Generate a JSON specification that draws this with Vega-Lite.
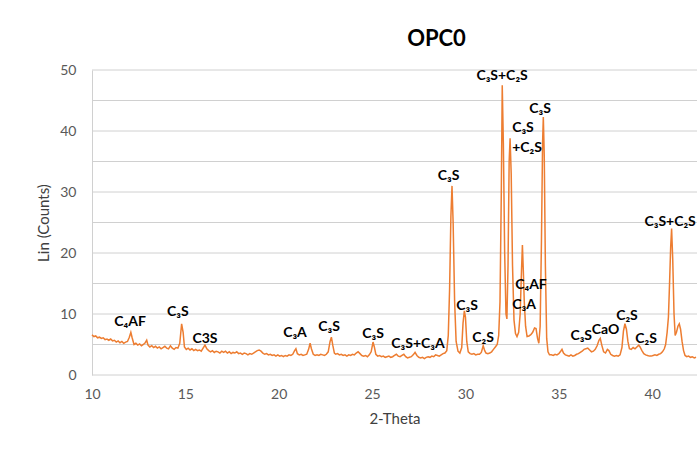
{
  "$schema": "https://vega.github.io/schema/vega-lite/v6.json",
  "width": 605,
  "height": 305,
  "autosize": {"type": "none"},
  "padding": {"left": 92, "top": 70, "right": 3, "bottom": 75},
  "background": "white",
  "title": {"text": "OPC0", "fontSize": 22, "fontWeight": "bold", "font": "Lato", "color": "#000000", "anchor": "middle", "dx": 42, "baseline": "bottom", "offset": -10},
  "config": {
    "view": {"stroke": null},
    "font": "Lato",
    "axis": {"domain": false, "ticks": false, "labelColor": "#595959", "titleColor": "#404040", "labelFont": "Lato", "titleFont": "Lato", "labelFontSize": 14, "titleFontSize": 15, "titleFontWeight": "normal", "labelFlush": false}
  },
  "datasets": {
    "xrd": [
      {"t":10.0,"c":6.6},{"t":10.1,"c":6.3},{"t":10.2,"c":6.4},{"t":10.3,"c":6.1},{"t":10.4,"c":6.2},{"t":10.5,"c":6.0},{"t":10.6,"c":6.1},{"t":10.7,"c":5.8},{"t":10.8,"c":5.9},{"t":10.9,"c":5.7},
      {"t":11.0,"c":5.9},{"t":11.1,"c":5.6},{"t":11.2,"c":5.7},{"t":11.3,"c":5.4},{"t":11.4,"c":5.6},{"t":11.5,"c":5.3},{"t":11.6,"c":5.5},{"t":11.7,"c":5.2},{"t":11.8,"c":5.4},{"t":11.9,"c":5.5},
      {"t":12.0,"c":6.2},{"t":12.08,"c":7.0},{"t":12.15,"c":6.1},{"t":12.25,"c":5.0},{"t":12.35,"c":5.2},{"t":12.45,"c":4.9},{"t":12.55,"c":5.1},{"t":12.65,"c":4.8},{"t":12.75,"c":5.0},{"t":12.85,"c":5.3},
      {"t":12.93,"c":5.7},{"t":13.0,"c":4.9},{"t":13.1,"c":4.6},{"t":13.2,"c":4.8},{"t":13.3,"c":4.5},{"t":13.4,"c":4.7},{"t":13.5,"c":4.4},{"t":13.6,"c":4.6},{"t":13.7,"c":4.3},{"t":13.8,"c":4.5},
      {"t":13.9,"c":4.7},{"t":14.0,"c":4.4},{"t":14.1,"c":4.3},{"t":14.2,"c":4.8},{"t":14.3,"c":4.4},{"t":14.4,"c":4.2},{"t":14.5,"c":4.5},{"t":14.6,"c":4.4},{"t":14.7,"c":5.2},{"t":14.8,"c":8.4},
      {"t":14.88,"c":7.0},{"t":14.95,"c":4.6},{"t":15.05,"c":4.2},{"t":15.15,"c":4.4},{"t":15.25,"c":4.1},{"t":15.35,"c":4.3},{"t":15.45,"c":4.0},{"t":15.55,"c":4.2},{"t":15.65,"c":4.0},{"t":15.75,"c":4.1},
      {"t":15.85,"c":3.9},{"t":15.95,"c":4.4},{"t":16.05,"c":4.9},{"t":16.15,"c":4.3},{"t":16.25,"c":4.0},{"t":16.35,"c":3.8},{"t":16.45,"c":4.0},{"t":16.55,"c":3.7},{"t":16.65,"c":3.9},{"t":16.75,"c":3.8},
      {"t":16.85,"c":3.6},{"t":16.95,"c":3.9},{"t":17.05,"c":3.7},{"t":17.15,"c":3.9},{"t":17.25,"c":3.6},{"t":17.35,"c":3.8},{"t":17.45,"c":3.5},{"t":17.55,"c":3.7},{"t":17.65,"c":3.6},{"t":17.75,"c":3.8},
      {"t":17.85,"c":3.5},{"t":17.95,"c":3.6},{"t":18.05,"c":3.4},{"t":18.15,"c":3.6},{"t":18.25,"c":3.5},{"t":18.35,"c":3.3},{"t":18.45,"c":3.5},{"t":18.55,"c":3.4},{"t":18.65,"c":3.6},{"t":18.75,"c":3.8},
      {"t":18.85,"c":4.0},{"t":18.95,"c":4.1},{"t":19.05,"c":3.9},{"t":19.15,"c":3.6},{"t":19.25,"c":3.4},{"t":19.35,"c":3.5},{"t":19.45,"c":3.3},{"t":19.55,"c":3.4},{"t":19.65,"c":3.2},{"t":19.75,"c":3.3},
      {"t":19.85,"c":3.1},{"t":19.95,"c":3.3},{"t":20.05,"c":3.1},{"t":20.15,"c":3.2},{"t":20.25,"c":3.0},{"t":20.35,"c":3.2},{"t":20.45,"c":3.1},{"t":20.55,"c":3.3},{"t":20.65,"c":3.2},{"t":20.75,"c":3.4},
      {"t":20.85,"c":4.0},{"t":20.92,"c":4.3},{"t":21.0,"c":3.5},{"t":21.1,"c":3.3},{"t":21.2,"c":3.4},{"t":21.3,"c":3.2},{"t":21.4,"c":3.3},{"t":21.5,"c":3.4},{"t":21.6,"c":4.2},{"t":21.68,"c":5.2},
      {"t":21.75,"c":4.3},{"t":21.85,"c":3.4},{"t":21.95,"c":3.2},{"t":22.05,"c":3.3},{"t":22.15,"c":3.2},{"t":22.25,"c":3.4},{"t":22.35,"c":3.3},{"t":22.45,"c":3.2},{"t":22.55,"c":3.4},{"t":22.65,"c":3.8},
      {"t":22.75,"c":5.5},{"t":22.82,"c":6.2},{"t":22.9,"c":4.8},{"t":22.98,"c":3.6},{"t":23.05,"c":3.4},{"t":23.15,"c":3.5},{"t":23.25,"c":3.3},{"t":23.35,"c":3.4},{"t":23.45,"c":3.2},{"t":23.55,"c":3.3},
      {"t":23.65,"c":3.1},{"t":23.75,"c":3.3},{"t":23.85,"c":3.2},{"t":23.95,"c":3.4},{"t":24.05,"c":3.3},{"t":24.15,"c":3.6},{"t":24.25,"c":3.8},{"t":24.35,"c":3.5},{"t":24.45,"c":3.2},{"t":24.55,"c":3.1},
      {"t":24.65,"c":3.2},{"t":24.75,"c":3.0},{"t":24.85,"c":3.3},{"t":24.95,"c":3.8},{"t":25.05,"c":5.4},{"t":25.12,"c":4.6},{"t":25.2,"c":3.4},{"t":25.3,"c":3.1},{"t":25.4,"c":3.2},{"t":25.5,"c":3.0},
      {"t":25.6,"c":3.1},{"t":25.7,"c":2.9},{"t":25.8,"c":3.0},{"t":25.9,"c":3.1},{"t":26.0,"c":2.9},{"t":26.1,"c":3.0},{"t":26.2,"c":3.2},{"t":26.3,"c":3.4},{"t":26.4,"c":3.1},{"t":26.5,"c":3.0},
      {"t":26.6,"c":3.2},{"t":26.7,"c":3.4},{"t":26.8,"c":3.0},{"t":26.9,"c":2.8},{"t":27.0,"c":2.9},{"t":27.1,"c":3.0},{"t":27.2,"c":3.3},{"t":27.3,"c":3.7},{"t":27.4,"c":3.2},{"t":27.5,"c":2.9},
      {"t":27.6,"c":2.8},{"t":27.7,"c":2.9},{"t":27.8,"c":2.7},{"t":27.9,"c":2.9},{"t":28.0,"c":3.0},{"t":28.1,"c":2.9},{"t":28.2,"c":3.1},{"t":28.3,"c":3.0},{"t":28.4,"c":3.3},{"t":28.5,"c":3.2},
      {"t":28.6,"c":3.1},{"t":28.7,"c":3.3},{"t":28.8,"c":3.5},{"t":28.9,"c":3.6},{"t":29.0,"c":4.0},{"t":29.08,"c":6.5},{"t":29.15,"c":14},{"t":29.22,"c":26},{"t":29.28,"c":31.0},{"t":29.34,"c":25},
      {"t":29.42,"c":12},{"t":29.5,"c":5.5},{"t":29.6,"c":3.9},{"t":29.7,"c":3.6},{"t":29.8,"c":4.5},{"t":29.87,"c":8.5},{"t":29.94,"c":10.5},{"t":30.0,"c":9.5},{"t":30.07,"c":5.5},{"t":30.15,"c":3.8},
      {"t":30.25,"c":3.5},{"t":30.35,"c":3.4},{"t":30.45,"c":3.5},{"t":30.55,"c":3.3},{"t":30.65,"c":3.4},{"t":30.75,"c":3.4},{"t":30.85,"c":3.7},{"t":30.95,"c":4.8},{"t":31.03,"c":4.0},{"t":31.1,"c":3.6},
      {"t":31.2,"c":3.5},{"t":31.3,"c":3.6},{"t":31.4,"c":3.8},{"t":31.5,"c":4.2},{"t":31.6,"c":4.6},{"t":31.7,"c":5.0},{"t":31.78,"c":6.5},{"t":31.85,"c":12},{"t":31.92,"c":30},{"t":31.97,"c":47.5},
      {"t":32.03,"c":38},{"t":32.1,"c":20},{"t":32.17,"c":10},{"t":32.22,"c":9.2},{"t":32.28,"c":18},{"t":32.34,"c":35},{"t":32.39,"c":38.8},{"t":32.45,"c":33},{"t":32.52,"c":18},{"t":32.6,"c":9},
      {"t":32.68,"c":6.8},{"t":32.76,"c":6.3},{"t":32.85,"c":7.0},{"t":32.93,"c":10},{"t":33.0,"c":17},{"t":33.05,"c":21.3},{"t":33.1,"c":17},{"t":33.15,"c":12},{"t":33.22,"c":8},{"t":33.3,"c":6.3},
      {"t":33.4,"c":6.4},{"t":33.5,"c":6.6},{"t":33.6,"c":7.0},{"t":33.7,"c":7.7},{"t":33.78,"c":7.6},{"t":33.86,"c":6.0},{"t":33.93,"c":5.2},{"t":34.0,"c":8},{"t":34.07,"c":22},{"t":34.13,"c":38},
      {"t":34.17,"c":42.3},{"t":34.22,"c":36},{"t":34.28,"c":18},{"t":34.35,"c":6},{"t":34.42,"c":3.8},{"t":34.5,"c":3.3},{"t":34.6,"c":3.3},{"t":34.7,"c":3.2},{"t":34.8,"c":3.4},{"t":34.9,"c":3.3},
      {"t":35.0,"c":3.5},{"t":35.1,"c":3.9},{"t":35.17,"c":4.2},{"t":35.25,"c":3.6},{"t":35.35,"c":3.3},{"t":35.45,"c":3.2},{"t":35.55,"c":3.1},{"t":35.65,"c":3.3},{"t":35.75,"c":3.1},{"t":35.85,"c":3.2},
      {"t":35.95,"c":3.4},{"t":36.05,"c":3.5},{"t":36.15,"c":3.7},{"t":36.25,"c":3.9},{"t":36.35,"c":4.2},{"t":36.45,"c":4.3},{"t":36.55,"c":4.4},{"t":36.65,"c":4.1},{"t":36.75,"c":3.8},{"t":36.85,"c":3.9},
      {"t":36.95,"c":4.2},{"t":37.05,"c":4.8},{"t":37.15,"c":5.7},{"t":37.22,"c":6.0},{"t":37.3,"c":4.9},{"t":37.4,"c":3.8},{"t":37.5,"c":3.6},{"t":37.6,"c":4.2},{"t":37.68,"c":4.0},{"t":37.78,"c":3.4},
      {"t":37.88,"c":3.2},{"t":37.98,"c":3.1},{"t":38.08,"c":3.2},{"t":38.18,"c":3.1},{"t":38.28,"c":3.3},{"t":38.38,"c":4.5},{"t":38.46,"c":7.2},{"t":38.54,"c":8.4},{"t":38.62,"c":7.5},{"t":38.7,"c":5.5},
      {"t":38.78,"c":4.3},{"t":38.88,"c":4.2},{"t":38.98,"c":4.5},{"t":39.08,"c":4.3},{"t":39.18,"c":4.6},{"t":39.28,"c":4.9},{"t":39.35,"c":4.6},{"t":39.45,"c":4.0},{"t":39.55,"c":3.5},{"t":39.65,"c":3.3},
      {"t":39.75,"c":3.2},{"t":39.85,"c":3.1},{"t":39.95,"c":3.1},{"t":40.05,"c":3.2},{"t":40.15,"c":3.3},{"t":40.25,"c":3.2},{"t":40.35,"c":3.4},{"t":40.45,"c":3.5},{"t":40.55,"c":3.8},{"t":40.65,"c":4.3},
      {"t":40.72,"c":5.0},{"t":40.8,"c":7},{"t":40.87,"c":9.5},{"t":40.93,"c":15},{"t":40.99,"c":21},{"t":41.04,"c":24},{"t":41.1,"c":19},{"t":41.17,"c":10},{"t":41.23,"c":6.5},{"t":41.3,"c":7.0},
      {"t":41.38,"c":8.0},{"t":41.45,"c":8.4},{"t":41.52,"c":7.5},{"t":41.6,"c":5.5},{"t":41.68,"c":4.0},{"t":41.76,"c":3.2},{"t":41.85,"c":3.0},{"t":41.95,"c":3.1},{"t":42.05,"c":2.9},{"t":42.15,"c":3.0},
      {"t":42.25,"c":2.8},{"t":42.35,"c":2.9}
    ],
    "labels": [
      {"t":12.04,"c":8.7,"label":"C₄AF"},
      {"t":14.6,"c":10.3,"label":"C₃S"},
      {"t":16.05,"c":5.9,"label":"C3S"},
      {"t":20.87,"c":6.9,"label":"C₃A"},
      {"t":22.7,"c":7.9,"label":"C₃S"},
      {"t":25.05,"c":6.7,"label":"C₃S"},
      {"t":27.46,"c":5.1,"label":"C₃S+C₃A"},
      {"t":29.1,"c":32.6,"label":"C₃S"},
      {"t":30.09,"c":11.3,"label":"C₃S"},
      {"t":30.94,"c":6.1,"label":"C₂S"},
      {"t":31.96,"c":49.0,"label":"C₃S+C₂S"},
      {"t":33.08,"c":40.5,"label":"C₃S"},
      {"t":33.3,"c":37.2,"label":"+C₂S"},
      {"t":34.0,"c":43.6,"label":"C₃S"},
      {"t":33.51,"c":14.8,"label":"C₄AF"},
      {"t":33.14,"c":11.5,"label":"C₃A"},
      {"t":36.2,"c":6.4,"label":"C₃S"},
      {"t":37.5,"c":7.4,"label":"CaO"},
      {"t":38.65,"c":9.7,"label":"C₂S"},
      {"t":39.67,"c":5.9,"label":"C₂S"},
      {"t":40.96,"c":25.1,"label":"C₃S+C₂S"}
    ],
    "ticks": [{"v":0},{"v":5},{"v":10},{"v":15},{"v":20},{"v":25},{"v":30},{"v":35},{"v":40},{"v":45},{"v":50}]
  },
  "layer": [
    {
      "data": {"name": "ticks"},
      "mark": {"type": "rule", "color": "#d0d0d0", "strokeWidth": 1},
      "encoding": {
        "y": {"field": "v", "type": "quantitative", "scale": {"domain": [0, 50], "nice": false}, "axis": {"title": "Lin (Counts)", "values": [0, 5, 10, 15, 20, 25, 30, 35, 40, 45, 50], "grid": false, "domain": true, "domainColor": "#d0d0d0", "labelPadding": 16, "titlePadding": 8}}
      }
    },
    {
      "data": {"name": "xrd"},
      "mark": {"type": "line", "color": "#ED7D31", "strokeWidth": 1.5, "interpolate": "linear"},
      "encoding": {
        "x": {"field": "t", "type": "quantitative", "scale": {"domain": [10, 42.4], "nice": false, "zero": false}, "axis": {"title": "2-Theta", "values": [10, 15, 20, 25, 30, 35, 40], "grid": false, "labelPadding": 12, "titlePadding": 10}},
        "y": {"field": "c", "type": "quantitative"}
      }
    },
    {
      "data": {"name": "labels"},
      "mark": {"type": "text", "font": "Lato", "fontWeight": "bold", "fontSize": 14, "color": "#000000", "baseline": "middle", "align": "center"},
      "encoding": {
        "x": {"field": "t", "type": "quantitative"},
        "y": {"field": "c", "type": "quantitative"},
        "text": {"field": "label", "type": "nominal"}
      }
    }
  ]
}
